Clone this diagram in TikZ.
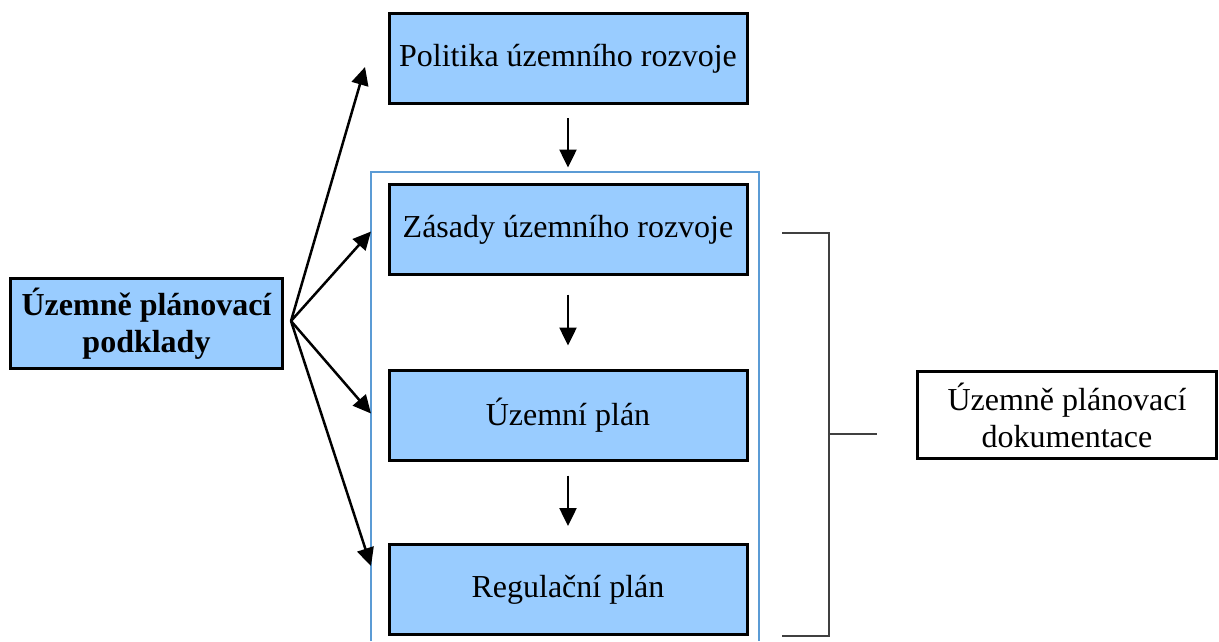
\documentclass[tikz,border=0pt]{standalone}
\usepackage{fontspec}
\setmainfont{Liberation Serif}
\usetikzlibrary{arrows.meta, positioning, calc}
\definecolor{planblue}{HTML}{99CCFF}
\definecolor{frameblue}{HTML}{5B9BD5}
\tikzset{
  plan/.style={rectangle,draw=black,line width=3pt,fill=planblue,minimum width=358pt,minimum height=90pt,inner sep=0pt,font=\fontsize{32}{37}\selectfont},
  podklad/.style={plan,minimum width=272pt,align=center,font=\fontsize{32}{37}\selectfont\bfseries},
  dokument/.style={plan,fill=white,line width=2.5pt,minimum width=299pt,minimum height=87pt,align=center},
  flow/.style={line width=2.5pt,-{Triangle[length=18pt,width=17pt]}},
  planframe/.style={draw=frameblue,line width=2.5pt},
  bracket/.style={draw=black!75,line width=1.3pt},
}

\begin{document}
\begin{tikzpicture}[x=1pt,y=-1pt]
    \useasboundingbox (0,0) rectangle (1219,641);
    \node[plan] (pol) at (568,58.5) {Politika územního rozvoje};
    \node[plan,below=78pt of pol] (zas) {Zásady územního rozvoje};
    \node[plan,below=93pt of zas] (uz) {Územní plán};
    \node[plan,below=81pt of uz] (reg) {Regulační plán};
    \node[podklad] (upp) at (146.5,323.5) {Územně plánovací\\podklady};
    \node[dokument] (upd) at (1067,415) {Územně plánovací\\dokumentace};
    % frame round the documentation
    \draw[planframe] (371,641) -- (371,172) -- (759,172) -- (759,641);
    \draw[flow,shorten <=13pt,shorten >=15.5pt] (pol.south) -- (zas.north);
    \draw[flow,shorten <=18.5pt,shorten >=23.5pt] (zas.south) -- (uz.north);
    \draw[flow,shorten <=13.5pt,shorten >=17pt] (uz.south) -- (reg.north);
    \coordinate (hub) at ($(upp.east)+(7,-2.5)$);
    \draw[flow] (hub) -- ($(pol.west)+(-22.5,8.5)$);
    \draw[flow] (hub) -- ($(zas.west)+(-16.5,2)$);
    \draw[flow] (hub) -- ($(uz.west)+(-16.5,-2)$);
    \draw[flow] (hub) -- ($(reg.west)+(-16.5,-23.5)$);
    % bracket
    \draw[bracket] (782,233) -- (829,233) -- (829,636) -- (782,636);
    \draw[bracket] (829,434) -- (877,434);
\end{tikzpicture}
\end{document}
